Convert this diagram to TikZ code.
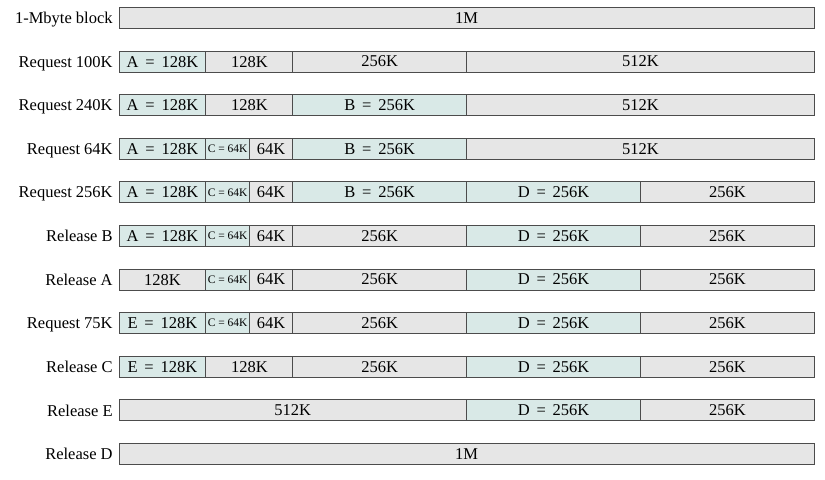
\documentclass[tikz,border=0pt]{standalone}
\usepackage{fontspec}
\setmainfont{Liberation Serif}
\usepackage{tikz}

\definecolor{freegray}{HTML}{E6E6E6}
\definecolor{usedteal}{HTML}{D9E9E7}

\tikzset{
  wd/.style={minimum width=#1*43.46pt},
  blk/.style={draw=black!70,line width=0.9pt,anchor=west,minimum height=21pt,inner sep=0pt},
  free/.style={blk,fill=freegray},
  used/.style={blk,fill=usedteal},
  tiny/.style={font=\fontsize{11.5}{13}\selectfont},
  lbl/.style={anchor=east,inner sep=0pt,text depth=0pt}
}

\begin{document}
\begin{tikzpicture}[x=43.46pt,y=-43.6pt,font=\fontsize{16.5}{19}\selectfont]
\useasboundingbox (-2.727,-0.413) rectangle (16.256,10.596);
% row labels
\node[lbl] (l0) at (-0.13,0) {1-Mbyte block};
\node[lbl] (l1) at (-0.13,1) {Request 100K};
\node[lbl] (l2) at (-0.13,2) {Request 240K};
\node[lbl] (l3) at (-0.13,3) {Request 64K};
\node[lbl] (l4) at (-0.13,4) {Request 256K};
\node[lbl] (l5) at (-0.13,5) {Release B};
\node[lbl] (l6) at (-0.13,6) {Release A};
\node[lbl] (l7) at (-0.13,7) {Request 75K};
\node[lbl] (l8) at (-0.13,8) {Release C};
\node[lbl] (l9) at (-0.13,9) {Release E};
\node[lbl] (l10) at (-0.13,10) {Release D};
% 1-Mbyte block
\node[free,wd=16] (r0a) at (0,0) {1M};
% Request 100K
\node[used,wd=2] (r1a) at (0,1) {A\, = \,128K};
\node[free,wd=2] (r1b) at (2,1) {128K};
\node[free,wd=4] (r1c) at (4,1) {256K};
\node[free,wd=8] (r1d) at (8,1) {512K};
% Request 240K
\node[used,wd=2] (r2a) at (0,2) {A\, = \,128K};
\node[free,wd=2] (r2b) at (2,2) {128K};
\node[used,wd=4] (r2c) at (4,2) {B\, = \,256K};
\node[free,wd=8] (r2d) at (8,2) {512K};
% Request 64K
\node[used,wd=2] (r3a) at (0,3) {A\, = \,128K};
\node[used,wd=1,tiny] (r3b) at (2,3) {C = 64K};
\node[free,wd=1] (r3c) at (3,3) {64K};
\node[used,wd=4] (r3d) at (4,3) {B\, = \,256K};
\node[free,wd=8] (r3e) at (8,3) {512K};
% Request 256K
\node[used,wd=2] (r4a) at (0,4) {A\, = \,128K};
\node[used,wd=1,tiny] (r4b) at (2,4) {C = 64K};
\node[free,wd=1] (r4c) at (3,4) {64K};
\node[used,wd=4] (r4d) at (4,4) {B\, = \,256K};
\node[used,wd=4] (r4e) at (8,4) {D\, = \,256K};
\node[free,wd=4] (r4f) at (12,4) {256K};
% Release B
\node[used,wd=2] (r5a) at (0,5) {A\, = \,128K};
\node[used,wd=1,tiny] (r5b) at (2,5) {C = 64K};
\node[free,wd=1] (r5c) at (3,5) {64K};
\node[free,wd=4] (r5d) at (4,5) {256K};
\node[used,wd=4] (r5e) at (8,5) {D\, = \,256K};
\node[free,wd=4] (r5f) at (12,5) {256K};
% Release A
\node[free,wd=2] (r6a) at (0,6) {128K};
\node[used,wd=1,tiny] (r6b) at (2,6) {C = 64K};
\node[free,wd=1] (r6c) at (3,6) {64K};
\node[free,wd=4] (r6d) at (4,6) {256K};
\node[used,wd=4] (r6e) at (8,6) {D\, = \,256K};
\node[free,wd=4] (r6f) at (12,6) {256K};
% Request 75K
\node[used,wd=2] (r7a) at (0,7) {E\, = \,128K};
\node[used,wd=1,tiny] (r7b) at (2,7) {C = 64K};
\node[free,wd=1] (r7c) at (3,7) {64K};
\node[free,wd=4] (r7d) at (4,7) {256K};
\node[used,wd=4] (r7e) at (8,7) {D\, = \,256K};
\node[free,wd=4] (r7f) at (12,7) {256K};
% Release C
\node[used,wd=2] (r8a) at (0,8) {E\, = \,128K};
\node[free,wd=2] (r8b) at (2,8) {128K};
\node[free,wd=4] (r8c) at (4,8) {256K};
\node[used,wd=4] (r8d) at (8,8) {D\, = \,256K};
\node[free,wd=4] (r8e) at (12,8) {256K};
% Release E
\node[free,wd=8] (r9a) at (0,9) {512K};
\node[used,wd=4] (r9b) at (8,9) {D\, = \,256K};
\node[free,wd=4] (r9c) at (12,9) {256K};
% Release D
\node[free,wd=16] (r10a) at (0,10) {1M};
\end{tikzpicture}
\end{document}
